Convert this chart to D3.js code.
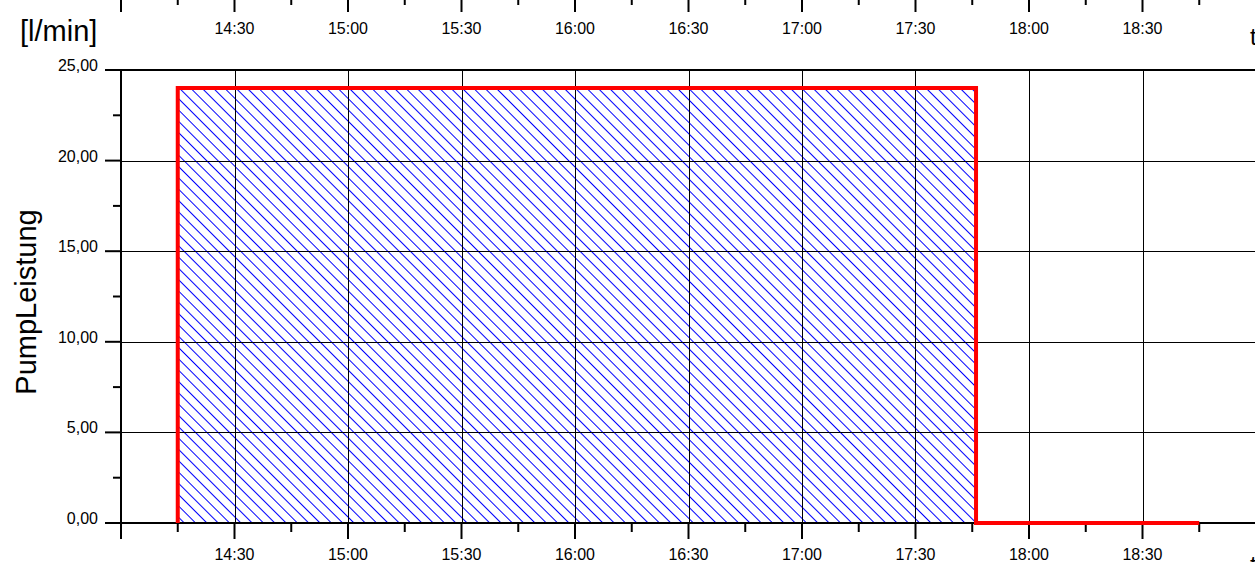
<!DOCTYPE html>
<html>
<head>
<meta charset="utf-8">
<script src="https://cdn.jsdelivr.net/npm/d3@7"></script>
<style>
html,body{margin:0;padding:0;background:#fff;overflow:hidden;}
svg{display:block;}
text{font-family:Arial,"Liberation Sans",sans-serif;fill:#000;}
</style>
</head>
<body>
<svg id="chart" width="1255" height="562"></svg>
<script>
// ---- data ----
const seriesTimes  = ["14:15", "14:15", "17:46", "17:46", "18:45"];
const seriesValues = [0, 24, 24, 0, 0];
const fillTimes    = ["14:15", "17:46"];
const fillValues   = [24, 24];
const xTickLabels  = ["14:30", "15:00", "15:30", "16:00", "16:30", "17:00", "17:30", "18:00", "18:30"];
const yTickValues  = [0, 5, 10, 15, 20, 25];
const yTickLabels  = ["0,00", "5,00", "10,00", "15,00", "20,00", "25,00"];
const xDomain      = ["14:00", "19:00"];
const yDomain      = [0, 25];
const yTitle = "PumpLeistung";
const yUnit  = "[l/min]";
const xTitle = "t";

// ---- helpers ----
const parseT = s => { const [h, m] = s.split(":").map(Number); return new Date(2000, 0, 1, h, m); };

const svg = d3.select("#chart");
const L = 121, R = 1256, T = 70, B = 523;

const x = d3.scaleTime().domain(xDomain.map(parseT)).range([L, R]);
const y = d3.scaleLinear().domain(yDomain).range([B, T]);

// hatch pattern
const defs = svg.append("defs");
const pat = defs.append("pattern")
  .attr("id", "hatch")
  .attr("patternUnits", "userSpaceOnUse")
  .attr("width", 8).attr("height", 8)
  .attr("patternTransform", "rotate(-45)");
pat.append("line")
  .attr("x1", 0.5).attr("y1", -1).attr("x2", 0.5).attr("y2", 9)
  .attr("stroke", "#0000ff").attr("stroke-width", 1);

// filled area
const area = d3.area()
  .x(d => x(parseT(d.t)))
  .y0(y(0))
  .y1(d => y(d.v));
svg.append("path")
  .datum(fillTimes.map((t, i) => ({ t, v: fillValues[i] })))
  .attr("d", area)
  .attr("fill", "url(#hatch)");

// grid lines
const xMajor = x.ticks(d3.timeMinute.every(30));
const xMinor = x.ticks(d3.timeMinute.every(15));
const g = svg.append("g").attr("stroke", "#000").attr("stroke-width", 1);
xMajor.filter(d => x(d) > L + 1 && x(d) < R - 2).forEach(d => {
  g.append("line").attr("x1", Math.round(x(d)) + 0.5).attr("x2", Math.round(x(d)) + 0.5)
    .attr("y1", T).attr("y2", B);
});
yTickValues.filter(v => v > 0 && v < 25).forEach(v => {
  g.append("line").attr("x1", L).attr("x2", 1255)
    .attr("y1", Math.round(y(v)) + 0.5).attr("y2", Math.round(y(v)) + 0.5);
});

// frame lines
const fr = svg.append("g").attr("stroke", "#000").attr("stroke-width", 2);
fr.append("line").attr("x1", L).attr("x2", 1255).attr("y1", T).attr("y2", T);
fr.append("line").attr("x1", L).attr("x2", 1255).attr("y1", B).attr("y2", B);
fr.append("line").attr("x1", L).attr("x2", L).attr("y1", T).attr("y2", B + 1);

// bottom and top axis ticks
xMinor.forEach(d => {
  const isMajor = d.getMinutes() % 30 === 0;
  fr.append("line").attr("x1", x(d)).attr("x2", x(d))
    .attr("y1", B).attr("y2", B + (isMajor ? 16 : 9))
    .attr("stroke", isMajor && x(d) > 1250 ? "#888" : "#000");
  fr.append("line").attr("x1", x(d)).attr("x2", x(d))
    .attr("y1", -4).attr("y2", isMajor ? 12 : 5)
    .attr("stroke", isMajor && x(d) > 1250 ? "#888" : "#000");
});

// left axis ticks
const yMinor = d3.range(0, 25.01, 2.5);
yMinor.forEach(v => {
  const isMajor = Math.abs(v % 5) < 1e-6;
  fr.append("line").attr("x1", L - (isMajor ? 16 : 8)).attr("x2", L)
    .attr("y1", y(v)).attr("y2", y(v));
});

// tick labels
const xLabTimes = xTickLabels.map(parseT);
svg.append("g").selectAll("text").data(xTickLabels).join("text")
  .attr("x", (d, i) => x(xLabTimes[i])).attr("y", 560)
  .attr("text-anchor", "middle").attr("font-size", 16).text(d => d);
svg.append("g").selectAll("text").data(xTickLabels).join("text")
  .attr("x", (d, i) => x(xLabTimes[i])).attr("y", 34)
  .attr("text-anchor", "middle").attr("font-size", 16).text(d => d);
svg.append("g").selectAll("text").data(yTickLabels).join("text")
  .attr("x", 98).attr("y", (d, i) => y(yTickValues[i]) + 1)
  .attr("text-anchor", "end").attr("font-size", 16).text(d => d);

// titles
svg.append("text").attr("x", 20).attr("y", 41).attr("font-size", 29).text(yUnit);
svg.append("text").attr("transform", "translate(36,302) rotate(-90)")
  .attr("text-anchor", "middle").attr("font-size", 29).text(yTitle);
svg.append("text").attr("x", 1250).attr("y", 45).attr("font-size", 24).text(xTitle);
svg.append("text").attr("x", 1250).attr("y", 573).attr("font-size", 24).text(xTitle);

// red series line
const line = d3.line()
  .x(d => x(parseT(d.t)))
  .y(d => y(d.v));
svg.append("path")
  .datum(seriesTimes.map((t, i) => ({ t, v: seriesValues[i] })))
  .attr("d", line)
  .attr("fill", "none")
  .attr("stroke", "#ff0000")
  .attr("stroke-width", 4)
  .attr("stroke-linejoin", "miter");
</script>
</body>
</html>
